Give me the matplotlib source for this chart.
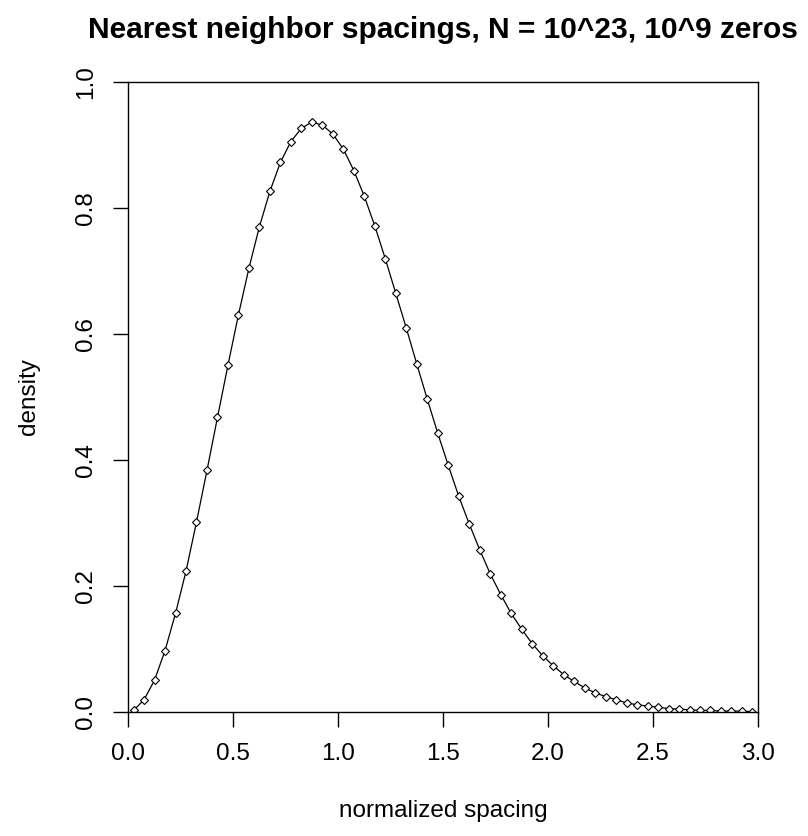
import numpy as np
import matplotlib as mpl
mpl.use('Agg')
import matplotlib.pyplot as plt

# bin centres of the normalized spacing histogram
spacing = [0.025 + 0.05 * i for i in range(60)]

# density, one value per bin
density = [
    0.002, 0.019, 0.050, 0.097, 0.156, 0.223, 0.301, 0.383, 0.467, 0.550,
    0.630, 0.704, 0.770, 0.826, 0.872, 0.905, 0.926, 0.936, 0.931, 0.917,
    0.893, 0.859, 0.818, 0.771, 0.719, 0.664, 0.609, 0.552, 0.496, 0.442,
    0.391, 0.342, 0.298, 0.257, 0.219, 0.186, 0.156, 0.131, 0.108, 0.089,
    0.073, 0.059, 0.048, 0.038, 0.030, 0.024, 0.019, 0.014, 0.011, 0.009,
    0.007, 0.005, 0.004, 0.003, 0.002, 0.002, 0.001, 0.001, 0.001, 0.000,
]

x_ticks = [0.0, 0.5, 1.0, 1.5, 2.0, 2.5, 3.0]
y_ticks = [0.0, 0.2, 0.4, 0.6, 0.8, 1.0]

title = "Nearest neighbor spacings, N = 10^23, 10^9 zeros"

plt.rcParams['font.family'] = ['Liberation Sans', 'DejaVu Sans']

fig = plt.figure(figsize=(8.08, 8.36), dpi=100)
ax = fig.add_axes([128.3 / 808, 1 - 711.7 / 836, (757.7 - 128.3) / 808, (711.7 - 81.7) / 836])

ax.plot(spacing, density, color='black', linewidth=0.9,
        marker='D', markersize=3.8, markerfacecolor='white',
        markeredgecolor='black', markeredgewidth=0.8)

ax.set_xlim(0, 3)
ax.set_ylim(0, 1)
ax.set_xticks(x_ticks)
ax.set_yticks(y_ticks)
ax.set_xticklabels([f"{v:.1f}" for v in x_ticks])
ax.set_yticklabels([f"{v:.1f}" for v in y_ticks], rotation=90, va='center')

for s in ax.spines.values():
    s.set_linewidth(1.0)
ax.tick_params(length=10.8, width=1.0, pad=12, labelsize=17.5, direction='out')

ax.set_xlabel("normalized spacing", fontsize=17.5, labelpad=25)
ax.set_ylabel("density", fontsize=17.5, labelpad=25)
fig.text((128.3 + 757.7) / 2 / 808, 1 - 30 / 836, title, fontsize=21.5,
         fontweight='bold', ha='center', va='center')

fig.savefig("out.png", dpi=100, facecolor='white')
